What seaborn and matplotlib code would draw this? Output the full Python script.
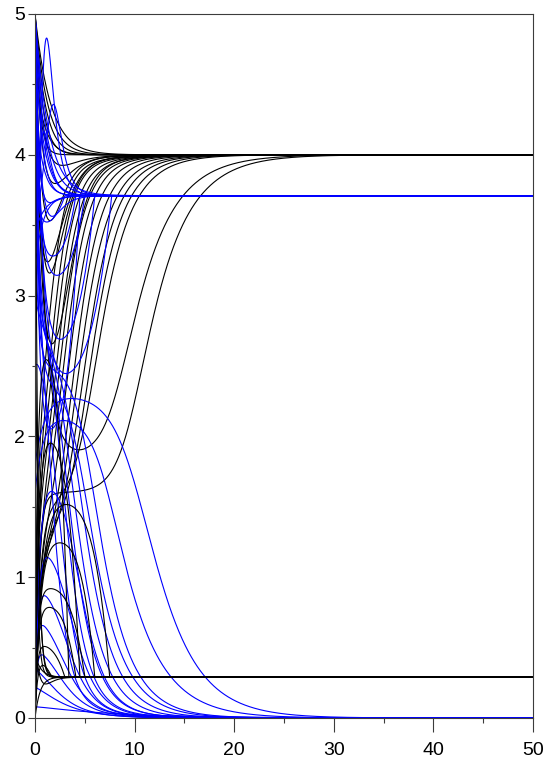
import numpy as np
import pandas as pd
import seaborn as sns
import matplotlib
matplotlib.use("Agg")
import matplotlib.pyplot as plt
from matplotlib.ticker import MultipleLocator

# Simulated trajectories of two state variables (black: x1, blue: x2).
# Every path: (start, relax, plateau, switch, width, rate)
#   start   value at t = 0
#   relax   time scale of the initial fast relaxation towards the plateau
#   plateau level held before the switch
#   switch  time at which the path leaves the plateau (corner paths: landing time)
#   width   smoothness of the departure from the plateau (corner paths: unused)
#   rate    approach rate towards the final state (corner paths: curvature exponent)

x_ticks = [0, 10, 20, 30, 40, 50]
y_ticks = [0, 1, 2, 3, 4, 5]

black_settle_high = [
    (5.0, 0.45, 4.0, 0.0, 1.0, 0.0),
    (5.0, 0.75, 4.0, 0.0, 1.0, 0.0),
    (5.0, 1.00, 4.0, 0.0, 1.0, 0.0),
    (5.0, 1.25, 4.0, 0.0, 1.0, 0.0),
    (5.0, 1.55, 4.0, 0.0, 1.0, 0.0),
    (4.6, 0.90, 4.0, 0.0, 1.0, 0.0),
]
black_dip_high = [
    (5.0, 0.70, 3.85, 2.5, 1.0, 0.60),
    (5.0, 0.60, 3.65, 2.2, 1.0, 0.70),
    (5.0, 0.50, 3.30, 2.0, 0.8, 0.90),
    (5.0, 0.50, 2.85, 2.2, 0.8, 0.90),
    (5.0, 0.55, 2.35, 3.0, 0.9, 0.80),
    (4.2, 0.50, 3.00, 2.0, 0.8, 0.80),
    (5.0, 0.90, 1.85, 8.2, 1.2, 0.30),
]
black_rise_high = [
    (0.3, 0.3, 2.0, 1.00, 0.8, 1.00),
    (0.1, 0.3, 1.8, 1.35, 0.8, 0.90),
    (0.0, 0.3, 1.6, 1.45, 0.9, 0.80),
    (0.2, 0.3, 1.5, 1.75, 0.9, 0.75),
    (0.0, 0.4, 1.4, 2.00, 1.0, 0.70),
    (0.1, 0.3, 1.3, 2.25, 1.0, 0.65),
    (0.0, 0.4, 1.2, 2.60, 1.0, 0.60),
    (0.2, 0.4, 1.1, 3.00, 1.0, 0.55),
    (0.0, 0.4, 1.1, 3.40, 1.1, 0.50),
    (0.1, 0.5, 1.2, 4.00, 1.1, 0.48),
    (0.0, 0.5, 1.3, 4.55, 1.1, 0.45),
    (0.0, 0.5, 1.5, 5.20, 1.1, 0.42),
    (0.3, 0.4, 1.6, 9.60, 1.2, 0.30),
]
black_hump_low = [
    (0.0, 0.70, 1.55, 7.5, 1.0, 5),
    (0.0, 0.55, 1.27, 6.0, 1.0, 5),
    (0.0, 0.30, 0.93, 5.0, 1.0, 4),
    (0.0, 0.30, 0.80, 4.1, 1.0, 4),
    (0.0, 0.20, 0.52, 3.0, 1.0, 3),
    (0.0, 0.35, 2.00, 4.5, 1.0, 4),
    (0.1, 0.25, 2.60, 3.4, 1.0, 4),
    (0.0, 0.25, 0.42, 1.7, 1.0, 2),
]
black_settle_low = [
    (5.0, 0.25, 0.29, 0.0, 1.0, 0.0),
    (3.2, 0.30, 0.29, 0.0, 1.0, 0.0),
    (2.0, 0.25, 0.29, 0.0, 1.0, 0.0),
    (0.6, 0.35, 0.18, 1.0, 0.5, 1.5),
    (0.0, 0.50, 0.29, 0.0, 1.0, 0.0),
    (0.45, 0.60, 0.29, 0.0, 1.0, 0.0),
]

blue_settle_high = [
    (5.0, 0.60, 3.71, 0.0, 1.0, 0.0),
    (5.0, 0.85, 3.71, 0.0, 1.0, 0.0),
    (5.0, 1.10, 3.71, 0.0, 1.0, 0.0),
    (4.7, 0.90, 3.71, 0.0, 1.0, 0.0),
    (4.4, 0.70, 3.71, 0.0, 1.0, 0.0),
    (5.0, 1.35, 3.71, 0.0, 1.0, 0.0),
    (3.45, 1.00, 3.71, 0.0, 1.0, 0.0),
    (3.2, 0.80, 3.71, 0.0, 1.0, 0.0),
    (4.6, 0.40, 3.58, 1.2, 0.5, 1.2),
    (4.9, 0.50, 3.45, 1.8, 0.5, 1.0),
]
blue_spike_high = [
    (3.3, 0.9, 6.3, 0.9, 0.25, 1.3),
    (3.6, 1.6, 4.9, 2.0, 0.30, 1.3),
    (3.6, 0.6, 4.5, 0.8, 0.30, 1.5),
]
blue_rebound_high = [
    (5.0, 0.70, 2.38, 7.7, 1.0, 4),
    (5.0, 0.60, 2.62, 6.0, 1.0, 4),
    (4.8, 0.50, 3.10, 5.0, 1.0, 4),
    (4.5, 0.40, 3.25, 4.1, 1.0, 4),
    (4.0, 0.30, 3.50, 3.0, 1.0, 3),
    (4.5, 0.35, 2.00, 4.5, 1.0, 4),
]
blue_fade_low = [
    (1.8, 1.00, 2.30, 10.0, 1.6, 0.29),
    (1.6, 0.80, 2.15, 7.0, 1.2, 0.30),
    (4.5, 0.35, 2.40, 4.4, 1.0, 0.40),
    (3.5, 0.35, 2.50, 5.1, 1.0, 0.40),
    (5.0, 0.30, 2.70, 3.65, 1.0, 0.45),
    (4.0, 0.30, 2.80, 3.0, 1.0, 0.50),
    (3.0, 0.30, 2.90, 2.6, 1.0, 0.60),
    (4.5, 0.30, 3.00, 2.2, 0.9, 0.70),
    (2.5, 0.30, 2.60, 1.9, 0.8, 0.80),
    (5.0, 0.25, 3.00, 1.2, 0.7, 1.00),
    (0.3, 0.50, 1.75, 3.8, 1.0, 0.60),
    (0.1, 0.35, 1.25, 3.0, 1.0, 0.60),
    (0.0, 0.25, 0.95, 2.5, 1.0, 0.60),
    (0.0, 0.20, 0.72, 2.0, 1.0, 0.55),
    (0.1, 0.20, 0.50, 1.5, 1.0, 0.50),
    (0.35, 0.30, 0.35, 0.5, 1.0, 0.45),
    (0.22, 0.30, 0.22, 0.0, 1.0, 0.35),
    (0.08, 0.30, 0.08, 0.0, 1.0, 0.12),
]

SLOW_RATE = 0.3
time = np.unique(np.concatenate([np.linspace(0, 3, 600), np.linspace(3, 50, 1400)]))


def softplus(x):
    return np.logaddexp(0.0, x)


def trajectory(p, final, corner=False, bell=False, tail=0.0):
    start, relax, plateau, switch, width, rate = p
    lead = np.exp(-(time / relax) ** 2) if bell else np.exp(-time / relax)
    if corner:
        leave = np.clip(1.0 - (time / switch) ** rate, 0.0, 1.0)
    else:
        def decay(k):
            return np.exp(-k * width * (softplus((time - switch) / width)
                                        - softplus(-switch / width)))
        leave = (1.0 - tail) * decay(rate) + tail * decay(SLOW_RATE)
    return final + (plateau - final) * leave + (start - plateau) * lead


def frame(paths, final, **kw):
    rows = []
    for i, p in enumerate(paths):
        rows.append(pd.DataFrame({"t": time, "value": trajectory(p, final, **kw), "path": i}))
    return pd.concat(rows, ignore_index=True)


sns.set_theme(style="white")
plt.rcParams["font.family"] = ["Liberation Sans", "DejaVu Sans"]

fig = plt.figure(figsize=(5.48, 7.59), dpi=100)
ax = fig.add_axes([35 / 548, 1 - 718 / 759, 498 / 548, 704 / 759])

layers = [
    (black_settle_high, 4.0, "black", {}),
    (black_dip_high, 4.0, "black", {"tail": 0.08}),
    (black_rise_high, 4.0, "black", {"tail": 0.08}),
    (blue_fade_low, 0.0, "blue", {"tail": 0.08}),
    (blue_settle_high, 3.71, "blue", {}),
    (blue_spike_high, 3.71, "blue", {"bell": True}),
    (blue_rebound_high, 3.71, "blue", {"corner": True}),
    (black_settle_low, 0.29, "black", {}),
    (black_hump_low, 0.29, "black", {"corner": True}),
]
for paths, final, colour, kw in layers:
    sns.lineplot(data=frame(paths, final, **kw), x="t", y="value", units="path",
                 estimator=None, sort=False, color=colour, linewidth=0.8, ax=ax)

ax.set_xlim(0, 50)
ax.set_ylim(0, 5)
ax.set_xlabel("")
ax.set_ylabel("")
ax.set_xticks(x_ticks)
ax.set_yticks(y_ticks)
ax.set_xticklabels([str(v) for v in x_ticks])
ax.set_yticklabels([str(v) for v in y_ticks])
ax.xaxis.set_minor_locator(MultipleLocator(5))
ax.yaxis.set_minor_locator(MultipleLocator(0.5))
for s in ax.spines.values():
    s.set_color("#3c3c3c")
    s.set_linewidth(0.8)
ax.tick_params(axis="x", which="major", direction="out", length=10, width=0.8,
               color="#3c3c3c", pad=7, labelsize=14, labelcolor="black", bottom=True)
ax.tick_params(axis="x", which="minor", direction="out", length=3.6, width=0.8,
               color="#3c3c3c", bottom=True)
ax.tick_params(axis="y", which="major", direction="out", length=5, width=0.8,
               color="#3c3c3c", pad=2, labelsize=14, labelcolor="black", left=True)
ax.tick_params(axis="y", which="minor", direction="out", length=2.5, width=0.8,
               color="#3c3c3c", left=True)

fig.savefig("out.png", dpi=100, facecolor="white")
